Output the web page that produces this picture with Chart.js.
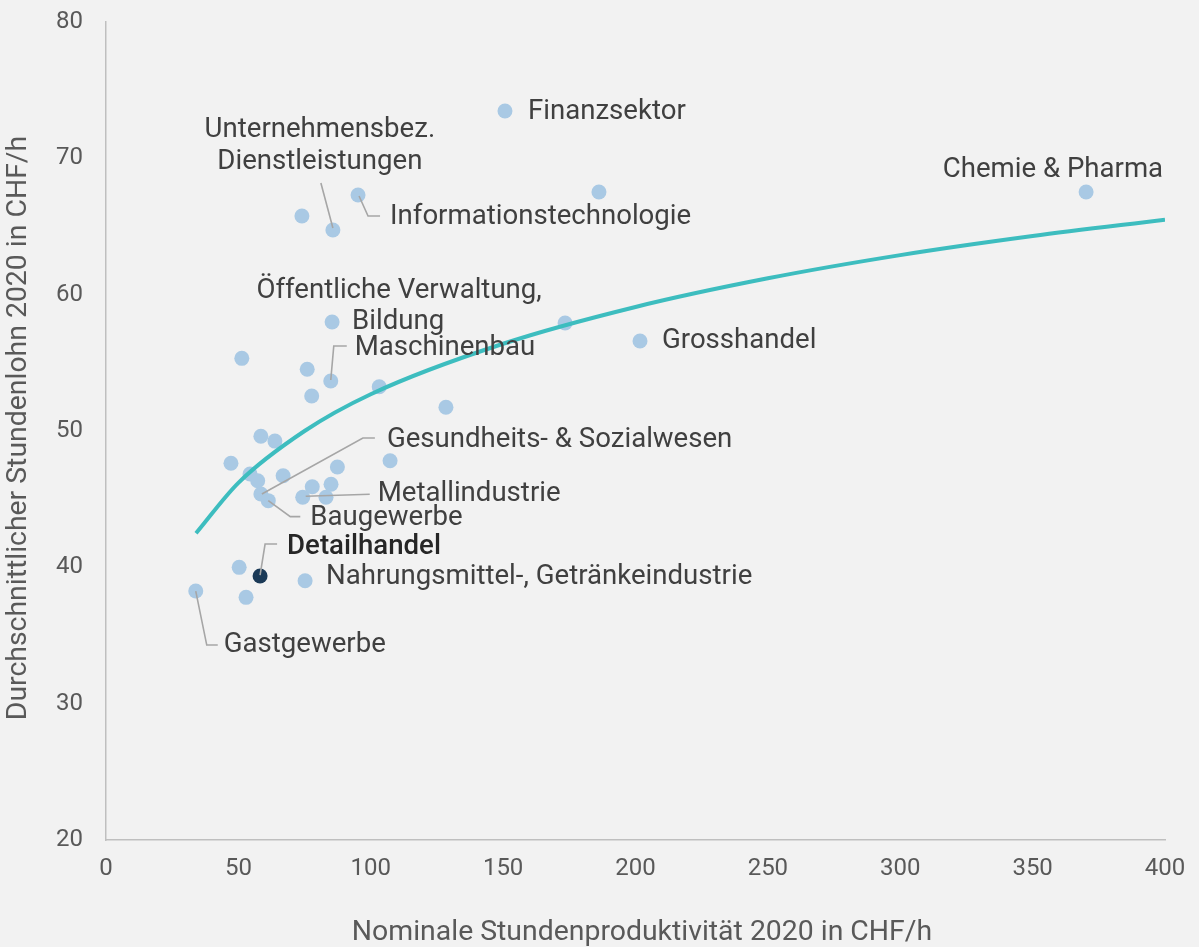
<!DOCTYPE html>
<html>
<head>
<meta charset="utf-8">
<script src="https://cdn.jsdelivr.net/npm/chart.js@4/dist/chart.umd.min.js"></script>
<style>
  html, body { margin: 0; padding: 0; background: #f2f2f2; }
  #wrap { width: 1199px; height: 947px; }
</style>
</head>
<body>
<div id="wrap"><canvas id="c" width="1199" height="947"></canvas></div>
<script>
// ---- Data ----
const sectorNames = [
  "Finanzsektor", "", "Chemie & Pharma", "Informationstechnologie", "",
  "Unternehmensbez. Dienstleistungen", "Öffentliche Verwaltung, Bildung", "", "Grosshandel", "",
  "", "Maschinenbau", "", "", "",
  "", "", "", "", "",
  "", "", "", "", "",
  "Gesundheits- & Sozialwesen", "Baugewerbe", "Metallindustrie", "", "Detailhandel",
  "", "", "Nahrungsmittel-, Getränkeindustrie", "Gastgewerbe"
];
const productivity = [
  150.7, 186.2, 370.2, 95.2, 74.0,
  85.7, 85.4, 173.4, 201.7, 51.3,
  76.0, 84.9, 103.2, 77.7, 128.4,
  58.5, 63.8, 47.2, 107.3, 87.4,
  54.4, 57.3, 66.9, 77.9, 85.0,
  58.5, 61.3, 74.3, 83.1, 58.2,
  50.3, 52.9, 75.2, 33.9
];
const wage = [
  73.47, 67.53, 67.53, 67.31, 65.77,
  64.74, 58.00, 57.92, 56.60, 55.33,
  54.53, 53.67, 53.25, 52.57, 51.74,
  49.62, 49.26, 47.63, 47.82, 47.36,
  46.85, 46.35, 46.72, 45.91, 46.09,
  45.38, 44.89, 45.14, 45.14, 39.36,
  40.00, 37.80, 39.02, 38.26
];
const highlighted = "Detailhandel";
const trendX = [34, 50, 75, 100, 150, 200, 250, 300, 350, 400];
const trendY = [42.5, 46.2, 50.0, 52.7, 56.4, 59.1, 61.2, 62.9, 64.3, 65.5];
const xTicks = [0, 50, 100, 150, 200, 250, 300, 350, 400];
const yTicks = [20, 30, 40, 50, 60, 70, 80];
const xTitle = "Nominale Stundenproduktivität 2020 in CHF/h";
const yTitle = "Durchschnittlicher Stundenlohn 2020 in CHF/h";

// ---- Label layout (pixel offsets from the labelled point) ----
const labelLayout = {
  "Finanzsektor": { lines: [["Finanzsektor", 23, 1, "left"]] },
  "Chemie & Pharma": { lines: [["Chemie & Pharma", 77, -22, "right"]] },
  "Informationstechnologie": { lines: [["Informationstechnologie", 32, 22, "left"]], leader: [[1,1],[10,21],[22,21]] },
  "Unternehmensbez. Dienstleistungen": { lines: [["Unternehmensbez.", -13, -100, "center"], ["Dienstleistungen", -13, -68, "center"]], leader: [[-12,-47],[0,-2]] },
  "Öffentliche Verwaltung, Bildung": { lines: [["Öffentliche Verwaltung,", 67, -31, "center"], ["Bildung", 20, 0, "left"]] },
  "Maschinenbau": { lines: [["Maschinenbau", 24, -33, "left"]], leader: [[0,-1],[3,-35],[16,-35]] },
  "Grosshandel": { lines: [["Grosshandel", 22, 0, "left"]] },
  "Gesundheits- & Sozialwesen": { lines: [["Gesundheits- & Sozialwesen", 126, -54, "left"]], leader: [[1,0],[102,-56],[114,-56]] },
  "Metallindustrie": { lines: [["Metallindustrie", 75, -3, "left"]], leader: [[3,-1],[67,-3]] },
  "Baugewerbe": { lines: [["Baugewerbe", 42, 17, "left"]], leader: [[0,0],[22,16],[32,16]] },
  "Detailhandel": { lines: [["Detailhandel", 27, -29, "left"]], leader: [[0,-1],[5,-32],[17,-32]], dark: true },
  "Nahrungsmittel-, Getränkeindustrie": { lines: [["Nahrungsmittel-, Getränkeindustrie", 21, -4, "left"]] },
  "Gastgewerbe": { lines: [["Gastgewerbe", 28, 54, "left"]], leader: [[0,0],[11,54],[22,54]] }
};

const FONT = "Roboto, 'Open Sans', sans-serif";

const points = productivity.map((x, i) => ({ x: x, y: wage[i] }));
const trend = trendX.map((x, i) => ({ x: x, y: trendY[i] }));
const pointColors = sectorNames.map(n => n === highlighted ? "#1b3a57" : "#a9c9e4");

const bgPlugin = {
  id: "bg",
  beforeDraw(chart) {
    const ctx = chart.ctx;
    ctx.save();
    ctx.fillStyle = "#f2f2f2";
    ctx.fillRect(0, 0, chart.width, chart.height);
    ctx.restore();
  }
};

const labelPlugin = {
  id: "labels",
  afterDatasetsDraw(chart) {
    const ctx = chart.ctx;
    const meta = chart.getDatasetMeta(1);
    ctx.save();
    sectorNames.forEach((name, i) => {
      const spec = labelLayout[name];
      if (!spec) return;
      const el = meta.data[i];
      const px = el.x, py = el.y;
      if (spec.leader) {
        ctx.beginPath();
        ctx.strokeStyle = "#a6a6a6";
        ctx.lineWidth = 1.6;
        spec.leader.forEach((p, k) => {
          if (k === 0) ctx.moveTo(px + p[0], py + p[1]);
          else ctx.lineTo(px + p[0], py + p[1]);
        });
        ctx.stroke();
      }
      ctx.font = (spec.dark ? "500 " : "400 ") + "27.6px " + FONT;
      ctx.fillStyle = spec.dark ? "#262626" : "#404040";
      ctx.textBaseline = "middle";
      spec.lines.forEach(l => {
        ctx.textAlign = l[3];
        ctx.fillText(l[0], px + l[1], py + l[2]);
      });
    });
    // axis titles
    ctx.fillStyle = "#595959";
    ctx.font = "28.4px " + FONT;
    ctx.textAlign = "center";
    ctx.textBaseline = "middle";
    ctx.fillText(xTitle, 642, 933);
    ctx.translate(19, 428);
    ctx.rotate(-Math.PI / 2);
    ctx.fillText(yTitle, 0, 0);
    ctx.restore();
  }
};

new Chart(document.getElementById("c"), {
  type: "scatter",
  data: {
    datasets: [
      {
        type: "line",
        data: trend,
        borderColor: "#3dbdbf",
        borderWidth: 4,
        pointRadius: 0,
        fill: false,
        tension: 0.4,
        cubicInterpolationMode: "monotone"
      },
      {
        data: points,
        pointRadius: 7.5,
        pointHoverRadius: 7.5,
        pointBackgroundColor: pointColors,
        pointBorderWidth: 0,
        borderWidth: 0
      }
    ]
  },
  options: {
    responsive: false,
    devicePixelRatio: 1,
    animation: false,
    layout: { padding: { top: 22, right: 34, left: 0, bottom: 0 } },
    plugins: { legend: { display: false }, tooltip: { enabled: false } },
    scales: {
      x: {
        type: "linear",
        min: 0, max: 400,
        afterBuildTicks(s) { s.ticks = xTicks.map(v => ({ value: v })); },
        afterFit(s) { s.height = 107; s.paddingLeft = 0; s.paddingRight = 0; },
        ticks: { color: "#595959", font: { family: FONT, size: 24 }, padding: 15, maxRotation: 0 },
        grid: { display: false, drawTicks: false },
        border: { display: true, color: "#bfbfbf", width: 1.5 },
        title: { display: false }
      },
      y: {
        type: "linear",
        min: 20, max: 80,
        afterBuildTicks(s) { s.ticks = yTicks.map(v => ({ value: v })); },
        afterFit(s) { s.width = 106; s.paddingTop = 0; s.paddingBottom = 0; },
        ticks: { color: "#595959", font: { family: FONT, size: 24 }, padding: 23 },
        grid: { display: false, drawTicks: false },
        border: { display: true, color: "#bfbfbf", width: 1.5 },
        title: { display: false }
      }
    }
  },
  plugins: [bgPlugin, labelPlugin]
});
</script>
</body>
</html>
